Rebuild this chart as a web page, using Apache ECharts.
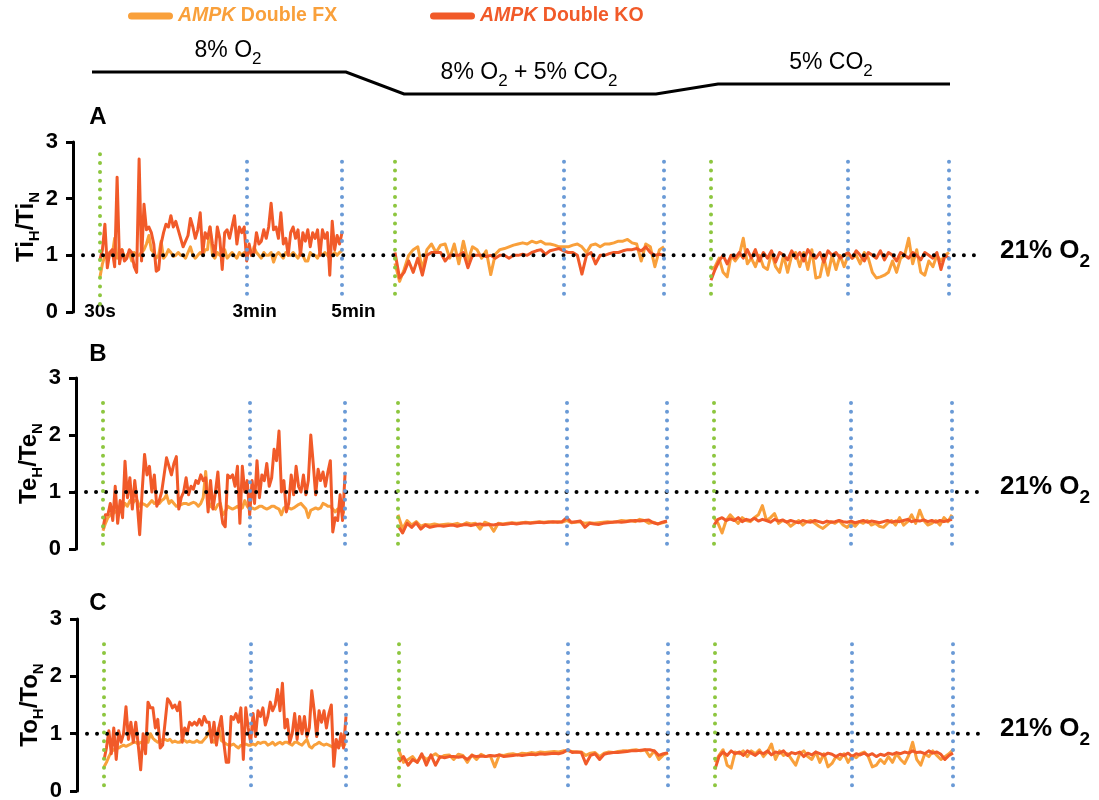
<!DOCTYPE html>
<html>
<head>
<meta charset="utf-8">
<script src="https://cdn.jsdelivr.net/npm/echarts@6.0.0/dist/echarts.min.js"></script>
<style>
  html, body { margin: 0; padding: 0; background: #fff; }
  #chart { width: 1099px; height: 800px; }
</style>
</head>
<body>
<div id="chart"></div>
<script>
// Breath-by-breath ratios of hypoxic / normoxic values.
// Ti = inspiratory time, Te = expiratory time, To = total breath time.
// Each challenge (8% O2, 8% O2 + 5% CO2, 5% CO2) runs from 30 s to 5 min.

// ---- Ti ----
const ti_FX_o2 = [0.62,0.85,1.0,0.95,1.05,1.0,1.3,0.95,1.0,1.1,0.95,1.0,1.05,0.9,1.05,1.0,1.0,1.05,1.1,1.2,
  1.35,1.1,1.05,0.95,1.0,1.25,0.95,1.0,1.1,1.05,0.98,1.0,1.05,1.0,1.0,0.95,1.05,1.15,1.0,0.95,
  1.0,1.05,1.0,1.1,1.1,1.5,1.0,0.95,1.05,1.0,1.0,1.1,0.95,1.0,1.05,1.0,0.95,1.05,1.0,1.05,
  1.0,1.1,1.0,1.15,1.05,1.0,0.95,1.05,1.0,1.0,1.05,0.88,1.0,1.05,1.0,0.95,1.05,1.0,1.0,1.05,
  1.0,0.95,1.05,1.0,0.9,0.9,1.05,1.0,1.0,0.95,1.05,1.0,1.05,1.0,0.95,1.0,1.05,1.0,1.05,1.08];
const ti_KO_o2 = [0.92,1.1,1.55,0.78,1.05,1.1,0.8,2.38,0.85,1.1,0.9,0.95,1.1,1.05,0.8,0.7,2.7,0.9,1.9,1.45,
  1.5,1.4,1.2,0.72,0.75,1.2,1.4,1.55,1.5,1.7,1.5,1.6,1.45,1.3,1.15,1.25,1.35,1.65,1.5,1.3,
  1.45,1.75,1.03,1.4,1.3,1.5,1.2,1.0,1.5,1.3,0.75,1.4,1.45,1.3,1.5,1.7,1.2,1.5,1.4,1.5,
  0.9,1.2,1.0,1.05,1.4,1.2,1.25,1.45,1.3,1.5,1.92,1.45,1.5,1.3,1.75,1.2,1.3,1.0,1.4,1.5,
  1.3,1.45,1.0,1.4,1.25,1.45,1.15,1.4,1.3,1.45,1.0,1.45,1.3,1.4,0.65,1.6,1.1,1.35,1.2,1.4];
const ti_FX_mix = [0.86,0.54,0.75,1.0,1.1,1.15,0.75,1.1,1.2,1.05,1.18,1.2,0.95,1.2,0.85,1.25,0.9,1.15,1.1,0.95,
  1.08,0.66,1.02,1.1,1.12,1.15,1.18,1.2,1.22,1.2,1.25,1.22,1.25,1.2,1.2,1.18,1.15,1.15,1.15,1.18,
  1.2,1.15,1.05,1.18,1.2,1.15,1.2,1.2,1.22,1.25,1.25,1.28,1.22,1.2,0.9,1.2,1.15,0.8,1.1,1.15];
const ti_KO_mix = [1.05,0.6,0.7,0.9,0.7,0.95,0.65,1.0,1.05,1.05,1.05,0.9,1.0,1.0,1.0,1.05,0.78,1.0,1.0,1.0,
  0.98,1.0,0.95,1.0,1.0,0.95,1.0,1.0,1.02,1.0,1.05,1.08,1.1,1.02,1.08,1.1,1.12,1.08,1.05,1.05,
  1.0,0.67,1.0,1.05,0.85,1.0,1.0,1.03,1.05,1.05,1.08,1.1,1.1,1.12,1.08,1.15,1.05,1.0,1.02,1.0];
const ti_FX_co2 = [0.75,0.8,0.95,0.7,0.62,1.0,0.9,1.0,1.3,0.85,0.95,0.8,1.0,0.8,0.75,1.05,0.8,0.7,1.0,0.7,
  1.0,1.05,0.8,1.05,0.75,1.1,0.6,0.62,0.95,0.65,1.0,0.75,1.0,0.8,1.0,0.95,1.0,0.85,1.05,0.95,
  0.7,0.6,0.62,0.65,0.7,0.9,0.7,0.95,1.0,1.3,0.85,1.1,0.7,0.65,0.9,0.8,1.0,0.9,1.0,1.05];
const ti_KO_co2 = [0.56,0.75,0.9,1.0,0.85,1.0,0.95,1.05,0.95,1.1,0.95,1.1,0.9,1.05,0.95,1.08,0.88,1.05,1.0,0.92,
  1.08,0.95,1.05,0.9,1.1,1.0,0.95,1.05,0.88,1.08,1.0,1.05,0.95,1.0,1.05,0.95,1.08,1.0,0.9,1.05,
  1.0,0.95,1.08,0.92,1.05,1.0,0.9,1.05,1.0,0.95,1.05,1.0,0.92,1.05,1.0,0.95,1.05,0.75,1.0,0.95];

// ---- Te ----
const te_FX_o2 = [0.32,0.45,0.55,0.6,0.62,0.65,0.68,0.7,0.72,0.8,0.75,0.85,0.8,0.85,0.85,0.75,0.8,0.78,0.75,0.8,
  0.85,0.8,0.82,0.8,0.85,0.88,0.95,0.8,0.85,0.8,0.75,0.75,0.78,0.8,0.8,0.78,0.8,0.82,0.8,0.75,
  0.8,0.9,1.36,0.85,0.75,0.72,0.7,0.78,0.8,0.6,0.65,0.75,0.72,0.7,0.72,0.75,0.7,0.72,0.85,0.75,
  0.7,0.72,0.7,0.72,0.75,0.75,0.72,0.7,0.72,0.75,0.75,0.72,0.7,0.6,0.72,0.75,0.72,0.7,0.72,0.75,
  0.78,0.8,0.75,0.7,0.55,0.68,0.7,0.72,0.7,0.72,0.8,0.78,0.75,0.75,0.7,0.65,0.7,0.68,0.65,0.65];
const te_KO_o2 = [0.36,0.6,0.6,0.8,0.5,1.1,0.45,0.85,0.55,1.54,0.9,1.25,0.7,1.2,0.8,0.25,1.0,1.66,1.3,1.45,
  1.0,1.3,0.75,0.85,1.0,1.3,1.6,1.45,1.3,1.5,1.62,0.7,0.9,1.0,1.25,0.95,1.1,1.05,1.2,1.15,
  1.3,1.2,1.25,0.65,1.2,0.7,1.0,1.35,0.75,0.45,0.39,1.3,1.25,1.3,1.1,1.45,0.45,1.45,1.0,1.2,
  0.6,1.2,0.8,1.55,0.9,1.3,1.2,1.5,1.1,1.25,1.75,1.55,2.07,1.0,1.2,0.65,0.8,1.3,0.95,1.45,
  1.1,1.0,1.3,0.95,1.2,2.0,1.5,0.95,1.4,1.2,1.35,1.1,1.35,1.55,0.3,0.55,0.5,0.95,0.5,1.3];
const te_FX_mix = [0.6,0.35,0.5,0.42,0.48,0.4,0.43,0.42,0.44,0.42,0.43,0.44,0.43,0.45,0.42,0.46,0.44,0.45,0.35,0.47,
  0.44,0.31,0.45,0.44,0.45,0.46,0.45,0.46,0.47,0.46,0.47,0.48,0.47,0.48,0.47,0.48,0.47,0.5,0.46,0.47,
  0.48,0.45,0.46,0.45,0.46,0.47,0.48,0.47,0.48,0.5,0.49,0.5,0.48,0.52,0.5,0.45,0.47,0.44,0.46,0.48];
const te_KO_mix = [0.41,0.28,0.45,0.38,0.46,0.35,0.42,0.38,0.4,0.41,0.4,0.41,0.42,0.4,0.42,0.43,0.41,0.43,0.44,0.42,
  0.43,0.42,0.44,0.43,0.44,0.45,0.44,0.45,0.46,0.45,0.46,0.47,0.46,0.47,0.48,0.47,0.48,0.55,0.47,0.48,
  0.49,0.38,0.45,0.44,0.43,0.45,0.46,0.47,0.48,0.47,0.48,0.49,0.5,0.49,0.5,0.51,0.46,0.44,0.47,0.49];
const te_FX_co2 = [0.55,0.45,0.28,0.5,0.6,0.52,0.45,0.55,0.5,0.48,0.55,0.6,0.76,0.5,0.55,0.62,0.45,0.5,0.48,0.4,
  0.45,0.5,0.42,0.48,0.5,0.45,0.4,0.36,0.42,0.48,0.45,0.5,0.42,0.38,0.45,0.4,0.48,0.45,0.5,0.42,
  0.45,0.4,0.38,0.45,0.5,0.42,0.55,0.42,0.48,0.6,0.45,0.68,0.5,0.42,0.45,0.5,0.42,0.55,0.48,0.6];
const te_KO_co2 = [0.42,0.52,0.55,0.5,0.53,0.5,0.55,0.48,0.52,0.5,0.54,0.49,0.52,0.5,0.47,0.52,0.49,0.51,0.47,0.5,
  0.48,0.46,0.5,0.48,0.47,0.5,0.48,0.46,0.49,0.47,0.48,0.5,0.48,0.47,0.49,0.46,0.48,0.5,0.47,0.49,
  0.48,0.46,0.48,0.5,0.47,0.49,0.48,0.5,0.52,0.48,0.5,0.49,0.51,0.48,0.5,0.47,0.5,0.48,0.5,0.52];

// ---- To ----
const to_FX_o2 = [0.42,0.5,0.6,0.68,0.72,0.75,0.75,0.78,0.8,0.78,0.8,0.82,0.85,0.85,0.82,0.85,0.85,0.88,0.85,1.0,
  0.92,0.88,0.85,0.87,0.9,0.9,0.88,0.9,0.85,0.87,0.85,0.85,0.9,0.88,0.85,0.87,0.85,0.85,0.88,0.85,
  0.85,0.9,0.95,1.05,0.9,0.85,0.95,1.1,0.88,0.85,0.82,0.8,0.8,0.82,0.78,0.75,0.8,0.8,0.82,0.8,
  0.8,0.82,0.8,0.85,0.83,0.85,0.85,0.8,0.82,0.85,0.8,0.83,0.85,0.82,0.85,0.85,0.82,0.8,0.85,0.85,
  0.82,0.8,0.85,0.9,0.78,0.75,0.8,0.82,0.85,0.82,0.8,0.82,0.8,0.78,0.75,0.78,0.8,0.8,0.82,0.8];
const to_KO_o2 = [0.54,0.75,1.05,0.65,1.1,0.55,1.05,0.85,1.0,1.47,0.9,1.2,0.85,1.2,0.8,0.37,1.0,0.65,1.55,1.45,
  1.45,1.1,1.25,0.75,0.8,1.2,1.61,1.55,1.45,1.5,1.4,1.55,0.85,1.1,1.0,1.2,1.15,1.2,1.15,1.25,
  1.15,1.3,1.2,1.2,0.85,1.2,0.8,1.1,1.3,0.85,0.5,0.5,1.3,1.25,1.35,1.2,1.45,0.55,1.45,1.1,
  0.85,1.35,0.95,1.4,1.3,1.45,1.15,1.3,1.55,1.4,1.5,1.77,1.4,1.88,1.1,1.25,0.85,1.0,1.35,0.9,
  1.3,1.0,1.3,0.95,1.1,1.75,1.4,0.95,1.4,1.2,1.4,1.1,1.35,1.5,0.43,0.9,0.75,1.0,0.75,1.3];
const to_FX_mix = [0.7,0.5,0.55,0.6,0.5,0.62,0.55,0.6,0.65,0.58,0.62,0.63,0.55,0.64,0.62,0.5,0.63,0.55,0.64,0.6,
  0.62,0.42,0.63,0.62,0.64,0.65,0.63,0.66,0.65,0.67,0.66,0.68,0.67,0.68,0.69,0.68,0.7,0.7,0.69,0.68,
  0.68,0.62,0.66,0.67,0.6,0.66,0.68,0.67,0.69,0.7,0.7,0.71,0.72,0.7,0.72,0.6,0.7,0.55,0.63,0.66];
const to_KO_mix = [0.51,0.6,0.45,0.55,0.5,0.65,0.45,0.63,0.45,0.6,0.58,0.6,0.6,0.59,0.6,0.55,0.62,0.6,0.61,0.6,
  0.62,0.61,0.63,0.6,0.61,0.62,0.63,0.62,0.63,0.64,0.63,0.65,0.64,0.65,0.66,0.65,0.67,0.72,0.67,0.68,
  0.67,0.47,0.62,0.65,0.55,0.64,0.66,0.67,0.67,0.68,0.69,0.7,0.7,0.71,0.72,0.72,0.7,0.62,0.65,0.67];
const to_FX_co2 = [0.5,0.62,0.72,0.45,0.4,0.68,0.65,0.7,0.6,0.7,0.65,0.72,0.6,0.68,0.82,0.55,0.7,0.62,0.65,0.55,
  0.45,0.65,0.7,0.6,0.55,0.68,0.5,0.65,0.42,0.48,0.6,0.55,0.65,0.5,0.62,0.58,0.65,0.68,0.6,0.42,
  0.45,0.55,0.48,0.6,0.5,0.65,0.55,0.48,0.62,0.85,0.55,0.45,0.65,0.6,0.7,0.62,0.55,0.6,0.65,0.72];
const to_KO_co2 = [0.38,0.6,0.68,0.62,0.7,0.65,0.68,0.62,0.7,0.66,0.62,0.68,0.65,0.7,0.63,0.68,0.66,0.7,0.62,0.67,
  0.65,0.68,0.6,0.66,0.63,0.68,0.65,0.62,0.66,0.64,0.6,0.64,0.62,0.66,0.6,0.65,0.63,0.66,0.62,0.65,
  0.6,0.64,0.62,0.66,0.64,0.67,0.65,0.68,0.66,0.7,0.67,0.68,0.65,0.7,0.66,0.68,0.64,0.55,0.62,0.66];

// Breath index reached at the 3 min mark in each challenge
const breathAt3min = [60, 37, 34];
const timeLabels = ['30s', '3min', '5min'];
const yTickMax = 3;
const normoxiaLevel = 1;
const seriesNames = ['AMPK Double FX', 'AMPK Double KO'];

const panels = [
  { letter: 'A', measure: 'Ti', fx: [ti_FX_o2, ti_FX_mix, ti_FX_co2], ko: [ti_KO_o2, ti_KO_mix, ti_KO_co2] },
  { letter: 'B', measure: 'Te', fx: [te_FX_o2, te_FX_mix, te_FX_co2], ko: [te_KO_o2, te_KO_mix, te_KO_co2] },
  { letter: 'C', measure: 'To', fx: [to_FX_o2, to_FX_mix, to_FX_co2], ko: [to_KO_o2, to_KO_mix, to_KO_co2] }
];

// ---- layout & style ----
const W = 1099;
const FONT = "'Liberation Sans', Arial, Helvetica, sans-serif";
const FX_COLOR = '#F9A03B';
const KO_COLOR = '#F15A29';
const START_COLOR = '#8DC63F';
const MARK_COLOR = '#6A9AD6';
const AXIS_X = 73;
const REF_END_X = 983;
const SEG_X = [[100, 342], [395, 664], [711, 949]];
const PANEL_BOX = [
  { top: 142, height: 170, shift: 0, span: [0.32, 2.8], startSpan: [0.14, 2.8], letterY: 117.5 },
  { top: 378, height: 171, shift: 3, span: [0.09, 2.58], startSpan: [0.09, 2.58], letterY: 354 },
  { top: 619, height: 172, shift: 4, span: [0.1, 2.58], startSpan: [0.1, 2.58], letterY: 603 }
];

const dotted = (color, width, gap) => ({ color, width, type: [0.01, gap], cap: 'round' });

const grids = [], xAxes = [], yAxes = [], series = [], refSeries = [];

panels.forEach((p, pi) => {
  const box = PANEL_BOX[pi];
  // full-width frame carrying the y axis and the normoxia reference line
  const fg = grids.length;
  grids.push({ left: AXIS_X + box.shift, right: W - REF_END_X, top: box.top, height: box.height, outerBoundsMode: 'none' });
  xAxes.push({ gridIndex: fg, type: 'value', min: 0, max: 1, show: false });
  yAxes.push({
    gridIndex: fg, type: 'value', min: 0, max: yTickMax, interval: 1,
    axisLine: { show: true, lineStyle: { color: '#000', width: 3 } },
    axisTick: { show: true, length: 7, lineStyle: { color: '#000', width: 3 } },
    splitLine: { show: false },
    axisLabel: { color: '#000', fontSize: 22, fontWeight: 'bold', fontFamily: FONT, margin: 15 },
    name: `{m|${p.measure}}{s|H}{m|/${p.measure}}{s|N}`,
    nameLocation: 'middle', nameGap: 33, nameRotate: 90,
    nameMoveOverlap: false,
    nameTextStyle: {
      color: '#000', fontFamily: FONT, fontWeight: 'bold', fontSize: 24,
      rich: {
        m: { fontSize: 24, fontWeight: 'bold', fontFamily: FONT, color: '#000', lineHeight: 28, verticalAlign: 'middle' },
        s: { fontSize: 15, fontWeight: 'bold', fontFamily: FONT, color: '#000', lineHeight: 15, padding: [18, 0, 0, 0], verticalAlign: 'middle' }
      }
    }
  });
  refSeries.push({
    type: 'line', name: '21% O2', xAxisIndex: fg, yAxisIndex: fg,
    data: [[0, normoxiaLevel], [1, normoxiaLevel]],
    symbol: 'none', silent: true, z: 4,
    lineStyle: dotted('#000', 4, 10),
    endLabel: {
      show: true, distance: 17, offset: [0, -5],
      formatter: '{m|21% O}{s|2}',
      rich: {
        m: { fontSize: 26, fontWeight: 'bold', fontFamily: FONT, color: '#000', lineHeight: 30, verticalAlign: 'middle' },
        s: { fontSize: 19, fontWeight: 'bold', fontFamily: FONT, color: '#000', lineHeight: 19, padding: [22, 0, 0, 0], verticalAlign: 'middle' }
      }
    }
  });

  p.fx.forEach((fx, si) => {
    const ko = p.ko[si];
    const g = grids.length;
    const [x0, x1] = SEG_X[si];
    const last = fx.length - 1;
    const marks = [0, breathAt3min[si], last];
    grids.push({ left: x0 + box.shift, width: x1 - x0, top: box.top, height: box.height, outerBoundsMode: 'none' });
    const showTime = pi === 0 && si === 0;
    xAxes.push({
      gridIndex: g, type: 'value', min: 0, max: last,
      show: showTime,
      axisLine: { show: false }, axisTick: { show: false }, splitLine: { show: false },
      axisLabel: {
        show: showTime,
        customValues: marks,
        margin: 0,
        verticalAlign: 'middle',
        color: '#000', fontSize: 19, fontWeight: 'bold', fontFamily: FONT,
        formatter: v => `{t${marks.indexOf(v)}|${timeLabels[marks.indexOf(v)]}}`,
        rich: {
          t0: { fontSize: 19, fontWeight: 'bold', fontFamily: FONT, color: '#000', padding: [0, 0, 0, 0] },
          t1: { fontSize: 19, fontWeight: 'bold', fontFamily: FONT, color: '#000', padding: [0, 0, 0, 16] },
          t2: { fontSize: 19, fontWeight: 'bold', fontFamily: FONT, color: '#000', padding: [0, 0, 0, 23] }
        }
      }
    });
    yAxes.push({ gridIndex: g, type: 'value', min: 0, max: yTickMax, show: false });

    series.push({
      type: 'line', name: seriesNames[0], xAxisIndex: g, yAxisIndex: g,
      data: fx.map((v, i) => [i, v]),
      symbol: 'none', silent: true, z: 2,
      lineStyle: { color: FX_COLOR, width: 3, join: 'round' },
      itemStyle: { color: FX_COLOR }
    });
    const lineSpan = (idx) => {
      const span = (idx === 0 && si === 0) ? box.startSpan : box.span;
      return [
        { coord: [idx, span[0]], lineStyle: dotted(idx === 0 ? START_COLOR : MARK_COLOR, 4, 8.8) },
        { coord: [idx, span[1]] }
      ];
    };
    series.push({
      type: 'line', name: seriesNames[1], xAxisIndex: g, yAxisIndex: g,
      data: ko.map((v, i) => [i, v]),
      symbol: 'none', silent: true, z: 2,
      lineStyle: { color: KO_COLOR, width: 3, join: 'round' },
      itemStyle: { color: KO_COLOR },
      markLine: {
        silent: true, symbol: 'none', animation: false,
        label: { show: false },
        data: marks.map(lineSpan)
      }
    });
  });
});

const sub = (main, s, off) => ({
  m: { fontSize: main, fontFamily: FONT, color: '#000', lineHeight: main + 4, verticalAlign: 'middle' },
  s: { fontSize: s, fontFamily: FONT, color: '#000', lineHeight: s, padding: [off * 2, 0, 0, 0], verticalAlign: 'middle' }
});

const phaseText = [
  { text: '{m|8% O}{s|2}', x: 228, y: 51 },
  { text: '{m|8% O}{s|2}{m| + 5% CO}{s|2}', x: 529, y: 72.5 },
  { text: '{m|5% CO}{s|2}', x: 831, y: 63 }
];

const graphics = [
  {
    type: 'polyline', silent: true,
    shape: { points: [[92, 72], [346, 72], [404, 94], [656, 94], [718, 84], [950, 84]] },
    style: { stroke: '#000', lineWidth: 3, fill: null }
  },
  ...phaseText.map(t => ({
    type: 'text', x: t.x, y: t.y, silent: true,
    style: { text: t.text, align: 'center', verticalAlign: 'middle', fontSize: 23, fontFamily: FONT, fill: '#000', rich: sub(23, 17, 8.5) }
  })),
  ...panels.map((p, pi) => ({
    type: 'text', x: 98, y: PANEL_BOX[pi].letterY, silent: true,
    style: { text: p.letter, align: 'center', verticalAlign: 'middle', fontSize: 24, fontWeight: 'bold', fontFamily: FONT, fill: '#000' }
  }))
];

const pill = 'path://M3.5,0 L41.5,0 A3.5,3.5 0 0 1 41.5,7 L3.5,7 A3.5,3.5 0 0 1 3.5,0 Z';
const legendFor = (name, color, left) => ({
  left, top: 6, padding: 0, itemGap: 0,
  icon: pill, itemWidth: 45, itemHeight: 7,
  selectedMode: false,
  data: [{ name, itemStyle: { color } }],
  formatter: n => `{i|${n.slice(0, 4)}}{t|${n.slice(4)}}`,
  textStyle: {
    color, fontSize: 19.5, fontWeight: 'bold', fontFamily: FONT,
    rich: {
      i: { color, fontSize: 19.5, fontWeight: 'bold', fontStyle: 'italic', fontFamily: FONT },
      t: { color, fontSize: 19.5, fontWeight: 'bold', fontFamily: FONT }
    }
  }
});

const chart = echarts.init(document.getElementById('chart'), null, { renderer: 'canvas' });
chart.setOption({
  backgroundColor: '#fff',
  animation: false,
  legend: [legendFor(seriesNames[0], FX_COLOR, 128), legendFor(seriesNames[1], KO_COLOR, 430)],
  grid: grids,
  xAxis: xAxes,
  yAxis: yAxes,
  series: series.concat(refSeries),
  graphic: graphics
});
</script>
</body>
</html>
